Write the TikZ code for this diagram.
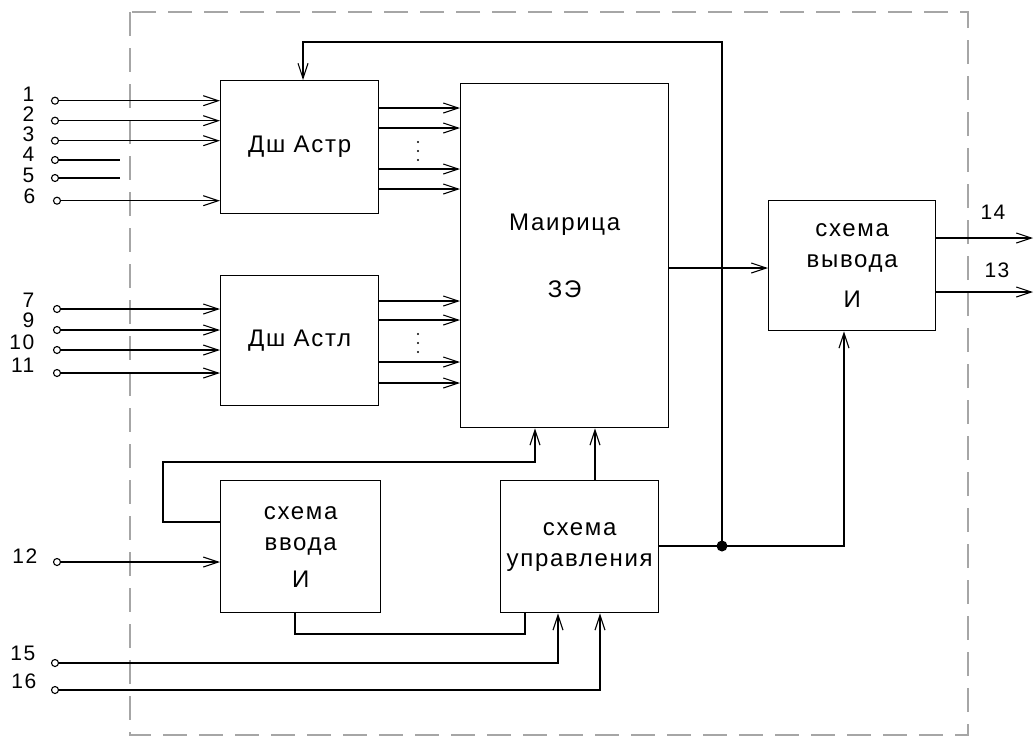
\documentclass[tikz,border=0pt]{standalone}
\usepackage{fontspec}
\setmainfont{Liberation Sans}
\newfontfamily\lsf[LetterSpace=7]{Liberation Sans}
\newcommand\fs{\lsf\fontsize{24}{31}\selectfont}
\newcommand\fsn{\lsf\fontsize{21}{25}\selectfont}
\usetikzlibrary{arrows.meta}
\begin{document}
\begin{tikzpicture}[x=1pt,y=-1pt, line width=1.4pt,
  blk/.style={draw, rectangle, inner sep=0pt, anchor=north west, align=center, font=\fs},
  arr/.style={-{Straight Barb[length=15pt,width=10pt,line width=1.1pt]}},
  term/.style={draw, circle, inner sep=0pt, minimum size=7pt, line width=1.1pt},
  num/.style={anchor=east, inner sep=0pt, font=\fsn, text height=10pt, text depth=0pt},
  txt/.style={inner sep=0pt, font=\fsn},
  border/.style={draw=black!35, line width=1.8pt, dash pattern=on 24pt off 12pt},
  jdot/.style={circle, fill, inner sep=0pt, minimum size=11pt},
  vdot/.style={circle, fill, inner sep=0pt, minimum size=2.2pt}
]
\useasboundingbox (0,0) rectangle (1035,737);
\draw[border] (130,12) rectangle (968,735);

% blocks
\node[blk, minimum width=158pt, minimum height=133pt] (astr) at (220,80) {Дш Астр};
\node[blk, minimum width=158pt, minimum height=130pt] (astl) at (220,275) {Дш Астл};
\node[blk, minimum width=208pt, minimum height=344pt] (mat) at (460,83) {Маирица\\[36pt]ЗЭ};
\node[blk, minimum width=167pt, minimum height=130pt] (vyv) at (768,200) {схема\\вывода\\[9pt]И};
\node[blk, minimum width=160pt, minimum height=132pt] (vvod) at (220,480) {схема\\ввода\\[6pt]И};
\node[blk, minimum width=158pt, minimum height=132pt] (ctl) at (500,480) {схема\\управления};

% input terminals
\node[term] (i1) at (55,100.7) {};
\node[term] (i2) at (55,120.7) {};
\node[term] (i3) at (55,140.7) {};
\node[term] (i4) at (55,160) {};
\node[term] (i5) at (55,178) {};
\node[term] (i6) at (57,200.7) {};
\node[term] (i7) at (57,309) {};
\node[term] (i9) at (57,330) {};
\node[term] (i10) at (57,350) {};
\node[term] (i11) at (57,373) {};
\node[term] (i12) at (57,562) {};
\node[term] (i15) at (55,663) {};
\node[term] (i16) at (55,690) {};

\node[num] (l1) at (35,96) {1};
\node[num] (l2) at (35,116) {2};
\node[num] (l3) at (35,136) {3};
\node[num] (l4) at (35,156) {4};
\node[num] (l5) at (35,177) {5};
\node[num] (l6) at (36,198) {6};
\node[num] (l7) at (35,302) {7};
\node[num] (l9) at (35,322) {9};
\node[num] (l10) at (35,344) {10};
\node[num] (l11) at (35,367) {11};
\node[num] (l12) at (38,558) {12};
\node[num] (l15) at (36,655) {15};
\node[num] (l16) at (37,683) {16};

% inputs to Дш Астр
\foreach \n in {1,2,3,6} \draw[arr] (i\n) -- (i\n -| astr.west);
\coordinate (e4) at (120,160);
\coordinate (e5) at (120,178);
\draw (i4) -- (e4);
\draw (i5) -- (e5);
% inputs to Дш Астл
\foreach \n in {7,9,10,11} \draw[arr] (i\n) -- (i\n -| astl.west);

% Дш -> matrix
\foreach \y in {108,128,169,189,301,320,362,383}
  \draw[arr] (astr.east |- 0,\y) -- (mat.west |- 0,\y);
\foreach \y in {142,151,160,334,343,352}
  \node[vdot] at (418,\y) {};

% matrix -> вывод
\draw[arr] (mat.east |- 0,268) -- (vyv.west |- 0,268);
% outputs
\coordinate (o14) at (1033,238);
\coordinate (o13) at (1033,292);
\draw[arr] (vyv.east |- o14) -- (o14);
\draw[arr] (vyv.east |- o13) -- (o13);
\node[txt] (l14) at (993,212) {14};
\node[txt] (l13) at (997,270) {13};

% управление outputs
\node[jdot] (j) at (722,546) {};
\draw[arr] (ctl.east |- j) -- (j.center) -- (844,546) -- (844,0 |- vyv.south);
\draw[arr] (j.center) -- (722,42) -- (303,42) -- (303,0 |- astr.north);
\draw[arr] (ctl.north -| 595,0) -- (595,0 |- mat.south);

% ввод loop
\draw[arr] (vvod.west |- 0,522) -- (163,522) -- (163,462) -- (535,462) -- (535,0 |- mat.south);
\draw (vvod.south -| 295,0) -- (295,634) -- (525,634) -- (525,0 |- ctl.south);
\draw[arr] (i12) -- (i12 -| vvod.west);
\draw[arr] (i15) -- (558,663) -- (558,0 |- ctl.south);
\draw[arr] (i16) -- (600,690) -- (600,0 |- ctl.south);
\end{tikzpicture}
\end{document}
